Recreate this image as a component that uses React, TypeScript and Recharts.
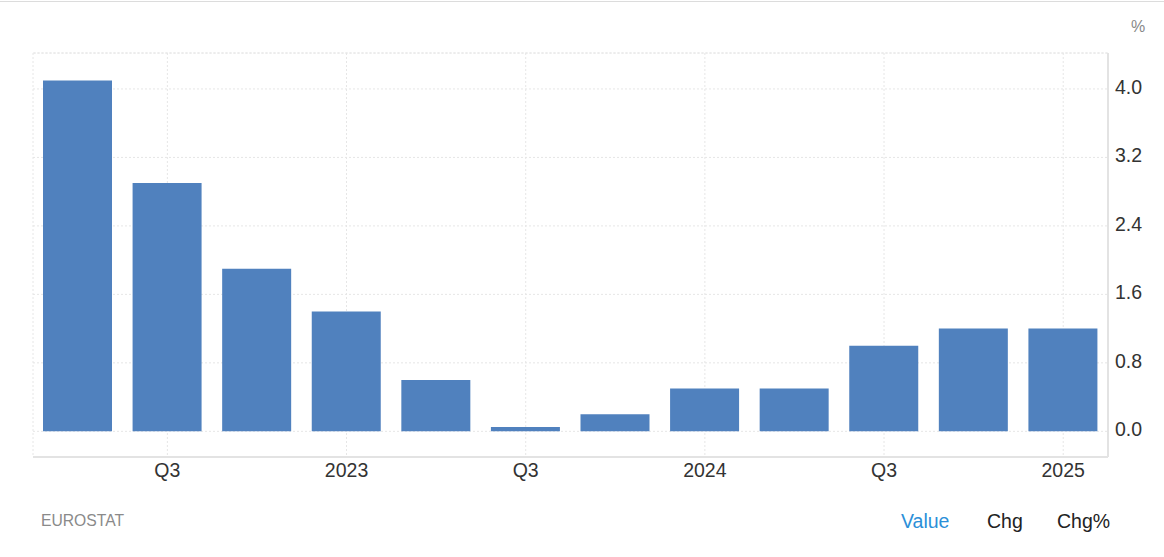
import React from 'react';
import { BarChart, Bar, XAxis, YAxis, CartesianGrid, ReferenceLine } from 'recharts';

const periods = ['2022Q2', '2022Q3', '2022Q4', '2023Q1', '2023Q2', '2023Q3', '2023Q4', '2024Q1', '2024Q2', '2024Q3', '2024Q4', '2025Q1'];
const values = [4.1, 2.9, 1.9, 1.4, 0.6, 0.05, 0.2, 0.5, 0.5, 1.0, 1.2, 1.2];
const xTicks = ['2022Q3', '2023Q1', '2023Q3', '2024Q1', '2024Q3', '2025Q1'];
const xTickLabels = ['Q3', '2023', 'Q3', '2024', 'Q3', '2025'];
const yTicks = [0, 0.8, 1.6, 2.4, 3.2, 4.0];
const footerTabs = ['Value', 'Chg', 'Chg%'];

const data = periods.map((p, i) => ({ period: p, value: values[i] }));

const FONT = 'Arial, "Liberation Sans", sans-serif';
const Y_MIN = -0.3;
const Y_MAX = 4.42;

export default function App() {
  return (
    <div style={{ position: 'absolute', left: 0, top: 0, width: 1164, height: 557, background: '#fff', fontFamily: FONT }}>
      <div style={{ position: 'absolute', left: 0, top: 1, width: 1164, borderTop: '1px solid #dcdcdc' }} />
      <div style={{ position: 'absolute', left: 1131, top: 18, fontSize: 16, color: '#888' }}>%</div>
      <BarChart
        width={1164}
        height={557}
        data={data}
        margin={{ top: 53, right: 0, left: 33, bottom: 70 }}
        barSize={69}
      >
        <CartesianGrid stroke="#e6e6e6" strokeDasharray="2 2" />
        <ReferenceLine y={Y_MAX} stroke="#e6e6e6" strokeDasharray="2 2" />
        <XAxis
          dataKey="period"
          ticks={xTicks}
          tickFormatter={(v) => xTickLabels[xTicks.indexOf(v)] ?? ''}
          tickLine={false}
          tickSize={0}
          tickMargin={6}
          height={30}
          axisLine={{ stroke: '#e3e3e3', strokeWidth: 2 }}
          tick={{ fill: '#333', fontSize: 19.5, fontFamily: FONT }}
        />
        <YAxis
          yAxisId="left"
          orientation="left"
          width={0}
          tick={false}
          tickLine={false}
          axisLine={{ stroke: '#e3e3e3', strokeWidth: 2 }}
          domain={[Y_MIN, Y_MAX]}
        />
        <YAxis
          orientation="right"
          width={56}
          domain={[Y_MIN, Y_MAX]}
          ticks={yTicks}
          allowDataOverflow
          tickFormatter={(v) => Number(v).toFixed(1)}
          tickLine={false}
          tickSize={0}
          tickMargin={7}
          axisLine={{ stroke: '#e3e3e3', strokeWidth: 2 }}
          tick={{ fill: '#333', fontSize: 19.5, fontFamily: FONT, dy: -2 }}
        />
        <Bar dataKey="value" fill="#5081be" isAnimationActive={false} />
      </BarChart>
      <div style={{ position: 'absolute', left: 41, top: 512, fontSize: 15.7, color: '#8a8a8a' }}>EUROSTAT</div>
      {footerTabs.map((t, i) => (
        <div
          key={t}
          style={{
            position: 'absolute',
            left: [901, 987, 1057][i],
            top: 510,
            fontSize: 19.5,
            color: i === 0 ? '#2b8fd8' : '#222',
          }}
        >
          {t}
        </div>
      ))}
    </div>
  );
}
